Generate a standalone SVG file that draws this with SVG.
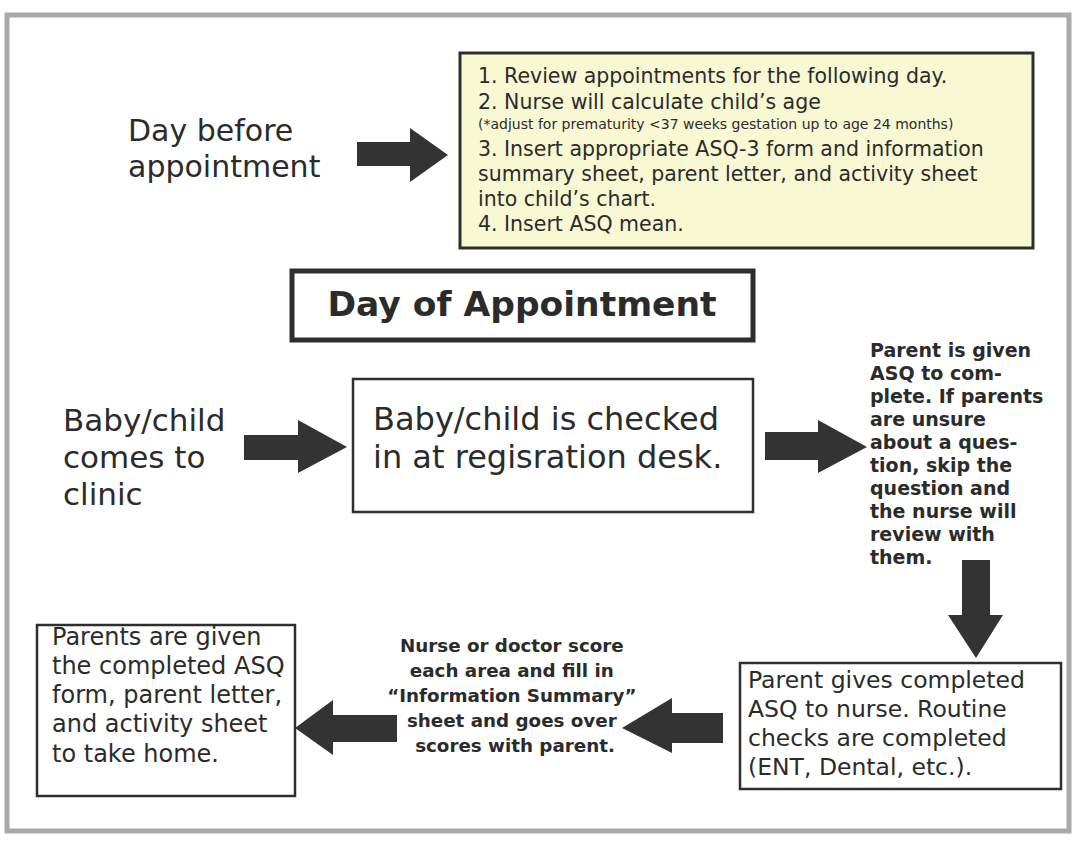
<svg xmlns="http://www.w3.org/2000/svg" width="1076" height="841" viewBox="0 0 1076 841">
<style>
  .t { font-family: "DejaVu Sans", "Liberation Sans", sans-serif; fill: #2b2b2b; }
  .b { font-family: "DejaVu Sans", "Liberation Sans", sans-serif; font-weight: bold; fill: #2b2b2b; }
  .box { fill: #ffffff; stroke: #2e2e2e; stroke-width: 2.5; }
  .arrow { fill: #333333; }
</style>
<rect x="0" y="0" width="1076" height="841" fill="#ffffff"/>
<rect x="7" y="15" width="1062" height="816" fill="#ffffff" stroke="#a9a9a9" stroke-width="5"/>

<g id="day-before-label">
  <text class="t" x="128" y="141" font-size="30">Day before</text>
  <text class="t" x="128" y="177" font-size="30">appointment</text>
</g>

<g id="day-before-steps">
  <rect x="460" y="53" width="573" height="195" fill="#f8f8d3" stroke="#2e2e2e" stroke-width="3"/>
  <text class="t" x="478" y="83" font-size="20.5">1. Review appointments for the following day.</text>
  <text class="t" x="478" y="109" font-size="20.5">2. Nurse will calculate child’s age</text>
  <text class="t" x="478" y="129" font-size="14">(*adjust for prematurity &lt;37 weeks gestation up to age 24 months)</text>
  <text class="t" x="478" y="156" font-size="20.5">3. Insert appropriate ASQ-3 form and information</text>
  <text class="t" x="478" y="181" font-size="20.5">summary sheet, parent letter, and activity sheet</text>
  <text class="t" x="478" y="206" font-size="20.5">into child’s chart.</text>
  <text class="t" x="478" y="231" font-size="20.5">4. Insert ASQ mean.</text>
</g>

<g id="day-of-appointment">
  <rect x="292" y="271" width="461" height="69" fill="#ffffff" stroke="#2e2e2e" stroke-width="5"/>
  <text class="b" x="522" y="316" font-size="34.5" text-anchor="middle">Day of Appointment</text>
</g>

<g id="comes-to-clinic">
  <text class="t" x="63" y="431" font-size="31">Baby/child</text>
  <text class="t" x="63" y="468" font-size="31">comes to</text>
  <text class="t" x="63" y="505" font-size="31">clinic</text>
</g>

<g id="checked-in">
  <rect class="box" x="353" y="379" width="400" height="133"/>
  <text class="t" x="373" y="430" font-size="32">Baby/child is checked</text>
  <text class="t" x="373" y="468" font-size="32">in at regisration desk.</text>
</g>

<g id="parent-given-asq">
  <text class="b" font-size="19">
    <tspan x="870" y="357">Parent is given</tspan>
    <tspan x="870" y="380">ASQ to com-</tspan>
    <tspan x="870" y="403">plete. If parents</tspan>
    <tspan x="870" y="426">are unsure</tspan>
    <tspan x="870" y="449">about a ques-</tspan>
    <tspan x="870" y="472">tion, skip the</tspan>
    <tspan x="870" y="495">question and</tspan>
    <tspan x="870" y="518">the nurse will</tspan>
    <tspan x="870" y="541">review with</tspan>
    <tspan x="870" y="564">them.</tspan>
  </text>
</g>

<g id="parent-gives-asq">
  <rect class="box" x="740" y="663" width="321" height="126"/>
  <text class="t" x="748" y="688" font-size="23.5">Parent gives completed</text>
  <text class="t" x="748" y="717" font-size="23.5">ASQ to nurse. Routine</text>
  <text class="t" x="748" y="746" font-size="23.5">checks are completed</text>
  <text class="t" x="748" y="775" font-size="23.5">(ENT, Dental, etc.).</text>
</g>

<g id="nurse-scores">
  <text class="b" font-size="18.3" text-anchor="middle">
    <tspan x="515" y="652">Nurse or doctor score</tspan>
    <tspan x="515" y="677">each area and fill in</tspan>
    <tspan x="515" y="702">“Information Summary”</tspan>
    <tspan x="515" y="727">sheet and goes over</tspan>
    <tspan x="515" y="752">scores with parent.</tspan>
  </text>
</g>

<g id="take-home">
  <rect class="box" x="37" y="625" width="258" height="171"/>
  <text class="t" x="52" y="645" font-size="24">Parents are given</text>
  <text class="t" x="52" y="674" font-size="24">the completed ASQ</text>
  <text class="t" x="52" y="703" font-size="24">form, parent letter,</text>
  <text class="t" x="52" y="732" font-size="24">and activity sheet</text>
  <text class="t" x="52" y="762" font-size="24">to take home.</text>
</g>

<g id="connectors">
  <polygon class="arrow" points="357,142 410,142 410,128 448,155 410,182 410,166 357,166"/>
  <polygon class="arrow" points="244,435 298,435 298,420 347,447 298,473 298,460 244,460"/>
  <polygon class="arrow" points="765,432 818,432 818,420 867,447 818,473 818,460 765,460"/>
  <polygon class="arrow" points="962,560 990,560 990,615 1003,615 976,658 948,615 962,615"/>
  <polygon class="arrow" points="723,713 672,713 672,698 622,728 672,753 672,743 723,743"/>
  <polygon class="arrow" points="397,715 333,715 333,700 295,728 333,755 333,742 397,742"/>
</g>
</svg>
